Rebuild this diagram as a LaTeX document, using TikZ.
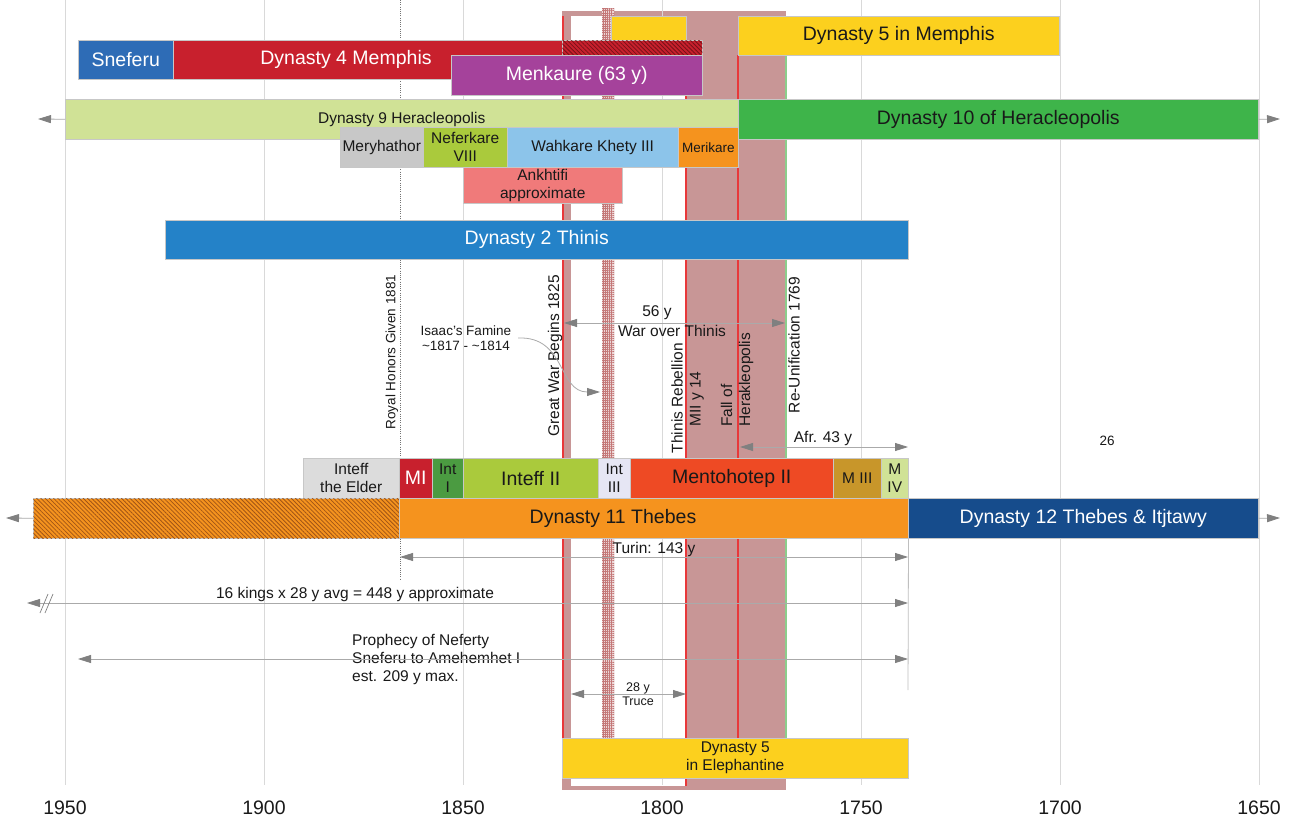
\documentclass[tikz,border=0pt]{standalone}
\usepackage{fontspec}
\setmainfont{Liberation Sans}
\usetikzlibrary{arrows.meta,patterns.meta}

\definecolor{cSneferu}{RGB}{46,108,182}
\definecolor{cRed}{RGB}{200,32,45}
\definecolor{cRedHatch}{RGB}{120,18,24}
\definecolor{cPurple}{RGB}{165,66,155}
\definecolor{cYellow}{RGB}{252,208,30}
\definecolor{cLime}{RGB}{208,226,150}
\definecolor{cGreen}{RGB}{62,180,74}
\definecolor{cGrey}{RGB}{200,200,200}
\definecolor{cOlive}{RGB}{170,202,60}
\definecolor{cSky}{RGB}{140,196,234}
\definecolor{cOrange}{RGB}{245,147,30}
\definecolor{cOrangeHatch}{RGB}{160,85,22}
\definecolor{cSalmon}{RGB}{240,122,122}
\definecolor{cBlue}{RGB}{36,130,200}
\definecolor{cPale}{RGB}{220,220,220}
\definecolor{cLeaf}{RGB}{75,155,65}
\definecolor{cLavender}{RGB}{230,230,244}
\definecolor{cVermilion}{RGB}{238,74,36}
\definecolor{cOchre}{RGB}{200,150,42}
\definecolor{cNavy}{RGB}{22,76,140}
\definecolor{cRose}{RGB}{200,150,150}
\definecolor{cWarLine}{RGB}{232,56,58}
\definecolor{cPeace}{RGB}{140,205,140}
\definecolor{cGrid}{RGB}{217,217,217}
\definecolor{cArrow}{RGB}{128,128,128}
\definecolor{cArrowLine}{RGB}{170,170,170}
\definecolor{cCheck}{RGB}{196,120,120}
\definecolor{cCheckBg}{RGB}{236,214,214}
\definecolor{cText}{RGB}{25,25,25}

% a timeline bar from (x1,y1) to (x2,y2): name, x1, y1, x2, y2, style, text
\newcommand{\tlspan}[7]{%
  \node[tlbox,#6,minimum width={(#4-#2)*1pt},minimum height={(#5-#3)*1pt},anchor=north west] (#1) at (#2,#3) {#7};}

\tikzset{
  fbig/.style={font=\fontsize{19.5}{22}\selectfont},
  fmid/.style={font=\fontsize{15.5}{18}\selectfont},
  fsmall/.style={font=\fontsize{13.5}{15}\selectfont},
  ftiny/.style={font=\fontsize{12.5}{14}\selectfont},
  tlbox/.style={draw=black!22,line width=0.5pt,inner sep=0pt,align=center,text=cText,fmid},
  lbl/.style={inner sep=0pt,align=center,text=cText},
  vlbl/.style={lbl,rotate=90},
  arr/.style={draw=cArrowLine,line width=0.8pt,-{Triangle[length=13pt,width=8pt,color=cArrow]}},
  arrs/.style={draw=cArrowLine,line width=0.8pt,{Triangle[length=13pt,width=8pt,color=cArrow]}-{Triangle[length=13pt,width=8pt,color=cArrow]}},
  gridline/.style={draw=cGrid,line width=1pt},
  warline/.style={draw=cWarLine,line width=1.2pt},
  honor/.style={draw=black!55,line width=1pt,dash pattern=on 1pt off 1.2pt},
}

\begin{document}
\begin{tikzpicture}[x=1pt,y=-1pt]
\useasboundingbox (0,0) rectangle (1297,818);
\fill[white] (0,0) rectangle (1297,818);

% the war period band and the truce inside it
\fill[cRose] (562,11) rectangle (786,790);
\fill[white] (571,16) rectangle (686,786);

% year grid
\foreach \xx/\yr in {65/1950,264/1900,463/1850,662/1800,861/1750,1060/1700,1259/1650}{
  \draw[gridline] (\xx,0) -- (\xx,785);
  \node[lbl,fbig] (year\yr) at (\xx,808) {\yr};
}

% famine column
\path[fill=cCheckBg,
  postaction={pattern={Lines[angle=0,distance=2.2pt,line width=0.45pt]},pattern color=cCheck},
  postaction={pattern={Lines[angle=90,distance=2.2pt,line width=0.45pt]},pattern color=cCheck}]
  (602,9) rectangle (614,738);

% war and peace markers
\draw[warline] (563,16) -- (563,778);
\draw[warline] (686,16) -- (686,786);
\draw[warline] (738,55) -- (738,738);
\draw[draw=cPeace,line width=1.2pt] (786,55) -- (786,738);

% royal honours
\draw[honor] (400,0) -- (400,580);

% Old Kingdom
\tlspan{dfivetop}{611}{16}{686}{40}{fill=cYellow}{}
\tlspan{sneferu}{78}{40}{173}{79}{fill=cSneferu,fbig,text=white}{Sneferu}
\tlspan{dfour}{173}{40}{562}{79}{fill=cRed}{}
\tlspan{dfourlate}{562}{40}{702}{79}{fill=cRed,postaction={pattern={Lines[angle=-45,distance=3pt,line width=0.8pt]},pattern color=cRedHatch}}{}
\node[lbl,fbig,text=white] (dfourlbl) at (346,59) {Dynasty 4 Memphis};
\tlspan{menkaure}{451}{55}{702}{95}{fill=cPurple,fbig,text=white}{Menkaure (63 y)}
\tlspan{dfivemem}{738}{16}{1059}{55}{fill=cYellow,fbig}{Dynasty 5 in Memphis}

% Heracleopolis
\tlspan{dnine}{65}{99}{738}{139}{fill=cLime}{Dynasty 9 Heracleopolis}
\tlspan{dten}{738}{99}{1258}{139}{fill=cGreen,fbig}{Dynasty 10 of Heracleopolis}
\tlspan{meryhathor}{340}{127}{423}{167}{fill=cGrey}{Meryhathor}
\tlspan{neferkare}{423}{127}{507}{167}{fill=cOlive}{Neferkare\\VIII}
\tlspan{wahkare}{507}{127}{678}{167}{fill=cSky}{Wahkare Khety III}
\tlspan{merikare}{678}{127}{738}{167}{fill=cOrange,fsmall}{Merikare}
\tlspan{ankhtifi}{463}{167}{622}{203}{fill=cSalmon}{Ankhtifi\\approximate}

% Thinis
\tlspan{dtwo}{165}{220}{908}{259}{fill=cBlue,fbig,text=white}{Dynasty 2 Thinis}

% Thebes rulers
\tlspan{inteffelder}{303}{458}{399}{498}{fill=cPale}{Inteff\\the Elder}
\tlspan{mone}{399}{458}{432}{498}{fill=cRed,fbig,text=white}{MI}
\tlspan{intone}{432}{458}{463}{498}{fill=cLeaf}{Int\\I}
\tlspan{inteffii}{463}{458}{598}{498}{fill=cOlive,fbig}{Inteff II}
\tlspan{intiii}{598}{458}{630}{498}{fill=cLavender}{Int\\III}
\tlspan{mentohotep}{630}{458}{833}{498}{fill=cVermilion,fbig}{Mentohotep II}
\tlspan{miii}{833}{458}{881}{498}{fill=cOchre}{M III}
\tlspan{miv}{881}{458}{908}{498}{fill=cLime}{M\\IV}
\tlspan{delevenold}{33}{498}{399}{538}{fill=cOrange,postaction={pattern={Lines[angle=-45,distance=3pt,line width=0.8pt]},pattern color=cOrangeHatch}}{}
\tlspan{deleven}{399}{498}{908}{538}{fill=cOrange}{}
\node[lbl,fbig] (delevenlbl) at (613,518) {Dynasty 11 Thebes};
\tlspan{dtwelve}{908}{498}{1258}{538}{fill=cNavy,fbig,text=white}{Dynasty 12 Thebes \& Itjtawy}

% Elephantine
\tlspan{dfiveele}{562}{738}{908}{778}{fill=cYellow}{Dynasty 5\\in Elephantine}

% vertical event labels
\node[vlbl,fsmall] (royal) at (392,352) {Royal Honors Given 1881};
\node[vlbl,fmid] (greatwar) at (555,356) {Great War Begins 1825};
\node[vlbl,fmid] (rebellion) at (677,398) {Thinis Rebellion};
\node[vlbl,fmid] (miiyear) at (697,399) {MII y 14};
\node[vlbl,fmid,anchor=west,align=left] (fall) at (737,427) {Fall of\\Herakleopolis};
\node[vlbl,fmid] (reunif) at (794,345) {Re-Unification 1769};

% other labels
\node[lbl,fsmall] (famine) at (466,338) {Isaac's Famine\\\textasciitilde1817 - \textasciitilde1814};
\node[lbl,fmid] (warlen) at (657,313) {56 y};
\node[lbl,fmid] (warname) at (672,331) {War over Thinis};
\node[lbl,fmid] (afr) at (823,438) {Afr. 43 y};
\node[lbl,fsmall] (twentysix) at (1107,441) {26};
\node[lbl,fmid] (turin) at (654,549) {Turin: 143 y};
\node[lbl,fmid] (kings) at (355,594) {16 kings x 28 y avg = 448 y approximate};
\node[lbl,fmid,anchor=west,align=left] (neferty) at (352,659) {Prophecy of Neferty\\Sneferu to Amehemhet I\\est. 209 y max.};
\node[lbl,ftiny] (truce) at (638,694) {28 y\\Truce};

% continuation arrows of the dynasties
\coordinate (dninetip) at (38,119);
\coordinate (dtentip) at (1280,119);
\coordinate (deleventip) at (6,518);
\coordinate (dtwelvetip) at (1280,518);
\draw[arr] (dnine.west) -- (dninetip);
\draw[arr] (dten.east) -- (dtentip);
\draw[arr] (delevenold.west) -- (deleventip);
\draw[arr] (dtwelve.east) -- (dtwelvetip);

% spans
\coordinate (warA) at (564,323);   \coordinate (warB) at (785,323);
\coordinate (afrA) at (740,447);   \coordinate (afrB) at (908,447);
\coordinate (turinA) at (400,557); \coordinate (turinB) at (908,557);
\coordinate (kingsA) at (27,603);  \coordinate (kingsB) at (908,603);
\coordinate (nefA) at (78,659);    \coordinate (nefB) at (908,659);
\coordinate (truceA) at (571,694); \coordinate (truceB) at (686,694);
\draw[arrs] (warA) -- (warB);
\draw[arrs] (afrA) -- (afrB);
\draw[arrs] (turinA) -- (turinB);
\draw[arrs] (kingsA) -- (kingsB);
\draw[arrs] (nefA) -- (nefB);
\draw[arrs] (truceA) -- (truceB);
\draw[draw=black!25,line width=0.8pt] (deleven.south east) -- (908,690);

% break mark on the kings span
\draw[draw=cArrow,line width=0.7pt] (40,613) -- (48,594) (45,613) -- (53,594);

% famine pointer
\coordinate (famS) at (518,338);
\coordinate (famE) at (600,392);
\draw[arr] (famS) .. controls (566,336) and (558,392) .. (famE);
\end{tikzpicture}
\end{document}
